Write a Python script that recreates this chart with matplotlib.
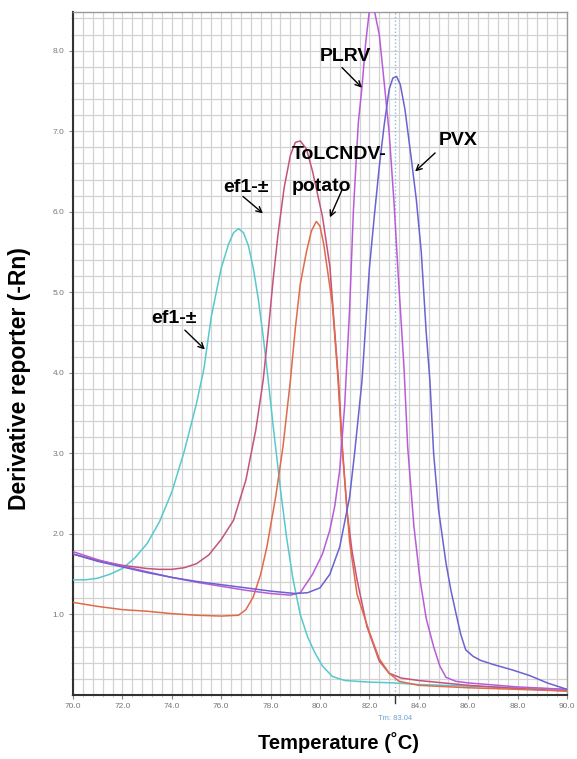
import matplotlib
matplotlib.use("Agg")
import matplotlib.pyplot as plt
from matplotlib.ticker import MultipleLocator, FormatStrFormatter
import matplotlib.transforms as mtransforms

plt.rcParams['font.family'] = ['Liberation Sans', 'DejaVu Sans']

# ---------------- data ----------------
ef1a_1_T = [70.0, 70.5, 71.0, 71.5, 72.0, 72.5, 73.0, 73.5, 74.0, 74.5, 75.0, 75.3, 75.6, 76.0,
            76.3, 76.5, 76.7, 76.9, 77.1, 77.3, 77.5, 77.7, 77.9, 78.1, 78.4, 78.65, 78.9, 79.2,
            79.5, 79.8, 80.1, 80.5, 81.0, 82.0, 83.0, 84.0, 86.0, 88.0, 90.0]
ef1a_1_V = [1.43, 1.43, 1.45, 1.50, 1.57, 1.70, 1.88, 2.15, 2.52, 3.02, 3.62, 4.05, 4.70, 5.30,
            5.60, 5.74, 5.79, 5.74, 5.58, 5.30, 4.92, 4.45, 3.92, 3.35, 2.55, 1.95, 1.45, 1.00,
            0.72, 0.52, 0.36, 0.23, 0.18, 0.16, 0.15, 0.13, 0.11, 0.09, 0.07]

ef1a_2_T = [70.0, 70.5, 71.0, 71.5, 72.0, 72.5, 73.0, 73.5, 74.0, 74.5, 75.0, 75.5, 76.0, 76.5,
            77.0, 77.4, 77.7, 77.9, 78.1, 78.3, 78.55, 78.8, 79.0, 79.2, 79.45, 79.7, 80.1, 80.4,
            80.6, 80.75, 80.9, 81.1, 81.3, 81.5, 81.9, 82.4, 82.8, 83.3, 84.0, 85.0, 86.0, 88.0,
            90.0]
ef1a_2_V = [1.75, 1.71, 1.67, 1.64, 1.61, 1.59, 1.57, 1.56, 1.56, 1.58, 1.63, 1.74, 1.93, 2.17,
            2.67, 3.29, 3.91, 4.50, 5.15, 5.72, 6.30, 6.70, 6.86, 6.88, 6.78, 6.50, 5.94, 5.32,
            4.50, 3.90, 3.10, 2.26, 1.78, 1.43, 0.85, 0.42, 0.27, 0.21, 0.18, 0.15, 0.12, 0.08,
            0.05]

tolcndv_T = [70.0, 71.0, 72.0, 73.0, 74.0, 75.0, 76.0, 76.7, 77.0, 77.3, 77.6, 77.85, 78.2, 78.5,
             78.8, 79.0, 79.2, 79.45, 79.65, 79.85, 80.0, 80.15, 80.3, 80.5, 80.7, 80.9, 81.2,
             81.5, 82.0, 82.4, 82.8, 83.2, 84.0, 86.0, 88.0, 90.0]
tolcndv_V = [1.15, 1.10, 1.06, 1.04, 1.01, 0.99, 0.98, 0.99, 1.06, 1.22, 1.50, 1.84, 2.45, 3.08,
             3.90, 4.55, 5.10, 5.50, 5.76, 5.88, 5.82, 5.60, 5.28, 4.85, 4.05, 3.05, 1.90,
             1.25, 0.78, 0.45, 0.27, 0.17, 0.12, 0.09, 0.07, 0.05]

plrv_T = [70.0, 71.0, 72.0, 73.0, 74.0, 75.0, 76.0, 77.0, 78.0, 78.8, 79.2, 79.7, 80.1, 80.4,
          80.6, 80.8, 81.0, 81.2, 81.35, 81.55, 81.7, 81.85, 82.0, 82.2, 82.4, 82.6, 82.8, 83.0,
          83.15, 83.4, 83.55, 83.8, 84.05, 84.3, 84.6, 84.85, 85.1, 85.5, 86.0, 88.0, 90.0]
plrv_V = [1.78, 1.68, 1.60, 1.53, 1.46, 1.40, 1.35, 1.30, 1.26, 1.24, 1.27, 1.50, 1.75, 2.05,
          2.35, 2.80, 3.60, 4.80, 6.00, 7.10, 7.55, 8.10, 8.50, 8.50, 8.20, 7.60, 6.98, 6.10,
          5.30, 4.07, 3.08, 2.10, 1.43, 0.95, 0.60, 0.36, 0.22, 0.17, 0.15, 0.10, 0.07]

pvx_T = [70.0, 71.0, 72.0, 73.0, 74.0, 75.0, 76.0, 77.0, 78.0, 79.0, 79.5, 80.0, 80.4, 80.8,
         81.2, 81.4, 81.7, 82.0, 82.2, 82.4, 82.6, 82.8, 82.95, 83.1, 83.25, 83.44, 83.7, 83.9,
         84.1, 84.3, 84.45, 84.6, 84.8, 85.1, 85.3, 85.5, 85.7, 85.9, 86.2, 86.5, 87.0, 87.8,
         88.5, 89.2, 89.6, 90.0]
pvx_V = [1.75, 1.66, 1.59, 1.52, 1.46, 1.41, 1.37, 1.33, 1.29, 1.26, 1.27, 1.33, 1.50, 1.84,
         2.46, 3.00, 3.90, 5.30, 5.95, 6.56, 7.08, 7.52, 7.66, 7.68, 7.58, 7.27, 6.65, 6.15,
         5.50, 4.50, 3.90, 3.00, 2.30, 1.64, 1.30, 1.02, 0.75, 0.56, 0.48, 0.43, 0.38, 0.31,
         0.24, 0.15, 0.11, 0.07]

x_ticks = [70.0, 72.0, 74.0, 76.0, 78.0, 80.0, 82.0, 84.0, 86.0, 88.0, 90.0]
y_ticks = [1.0, 2.0, 3.0, 4.0, 5.0, 6.0, 7.0, 8.0]
tm_value = 83.04

series = [
    (ef1a_1_T, ef1a_1_V, '#57c9cc'),
    (ef1a_2_T, ef1a_2_V, '#c4527f'),
    (tolcndv_T, tolcndv_V, '#e06a4a'),
    (plrv_T, plrv_V, '#b95bd8'),
    (pvx_T, pvx_V, '#6a62d0'),
]

# ---------------- figure ----------------
W, H = 577, 759
fig = plt.figure(figsize=(W / 100, H / 100), dpi=100)
ax = fig.add_axes([73 / W, 1 - 695 / H, (567 - 73) / W, (695 - 12) / H])

ax.set_xlim(70, 90)
ax.set_ylim(0, 8.48)

ax.xaxis.set_minor_locator(MultipleLocator(0.4))
ax.yaxis.set_minor_locator(MultipleLocator(0.2))
ax.set_xticks(x_ticks)
ax.set_yticks(y_ticks)
ax.xaxis.set_major_formatter(FormatStrFormatter('%.1f'))
ax.yaxis.set_major_formatter(FormatStrFormatter('%.1f'))

ax.grid(True, which='both', color='#d2d2d2', lw=0.9)
ax.set_axisbelow(True)

ax.tick_params(axis='both', which='major', labelsize=6, labelcolor='#777777',
               color='#888888', length=3, width=0.8, pad=3)
ax.tick_params(axis='both', which='minor', length=1.5, color='#bbbbbb')

for s in ['left', 'bottom']:
    ax.spines[s].set_color('#333333')
    ax.spines[s].set_linewidth(1.5)
for s in ['top', 'right']:
    ax.spines[s].set_color('#999999')
    ax.spines[s].set_linewidth(1.0)

# Tm marker
ax.axvline(tm_value, color='#8fb6e0', lw=1.0, ls=':', zorder=1)
ax.axvline(tm_value, ymin=-0.012, ymax=0.0, color='#333333', lw=1.0, clip_on=False)
trans = mtransforms.blended_transform_factory(ax.transData, fig.transFigure)
ax.text(tm_value, 1 - 718 / H, 'Tm: 83.04', transform=trans, ha='center', va='center',
        fontsize=5.5, color='#6f9fd6')

for T, V, c in series:
    ax.plot(T, V, color=c, lw=1.1, solid_joinstyle='round', zorder=3)

# annotations
lab = dict(fontsize=14, fontweight='bold', color='black')
arr = dict(arrowstyle='->', lw=1.0, color='black', shrinkA=0, shrinkB=0,
           mutation_scale=10)

ax.text(74.09, 4.67, 'ef1-±', ha='center', va='center', **lab)
ax.annotate('', xy=(75.34, 4.29), xytext=(74.53, 4.53), arrowprops=arr)

ax.text(77.0, 6.30, 'ef1-±', ha='center', va='center', **lab)
ax.annotate('', xy=(77.69, 5.98), xytext=(76.88, 6.19), arrowprops=arr)

ax.text(78.87, 6.71, 'ToLCNDV-', ha='left', va='center', **lab)
ax.text(78.87, 6.31, 'potato', ha='left', va='center', **lab)
ax.annotate('', xy=(80.40, 5.93), xytext=(80.89, 6.27), arrowprops=arr)

ax.text(81.01, 7.93, 'PLRV', ha='center', va='center', **lab)
ax.annotate('', xy=(81.70, 7.54), xytext=(80.89, 7.79), arrowprops=arr)

ax.text(85.59, 6.89, 'PVX', ha='center', va='center', **lab)
ax.annotate('', xy=(83.85, 6.50), xytext=(84.66, 6.73), arrowprops=arr)

# axis titles
fig.text(20 / W, 1 - 379 / H, 'Derivative reporter (-Rn)', rotation=90,
         ha='center', va='center', fontsize=16.5, fontweight='bold')
fig.text(339 / W, 1 - 743 / H, 'Temperature (˚C)', ha='center', va='center',
         fontsize=14.5, fontweight='bold')

fig.savefig('out.png', dpi=100)
